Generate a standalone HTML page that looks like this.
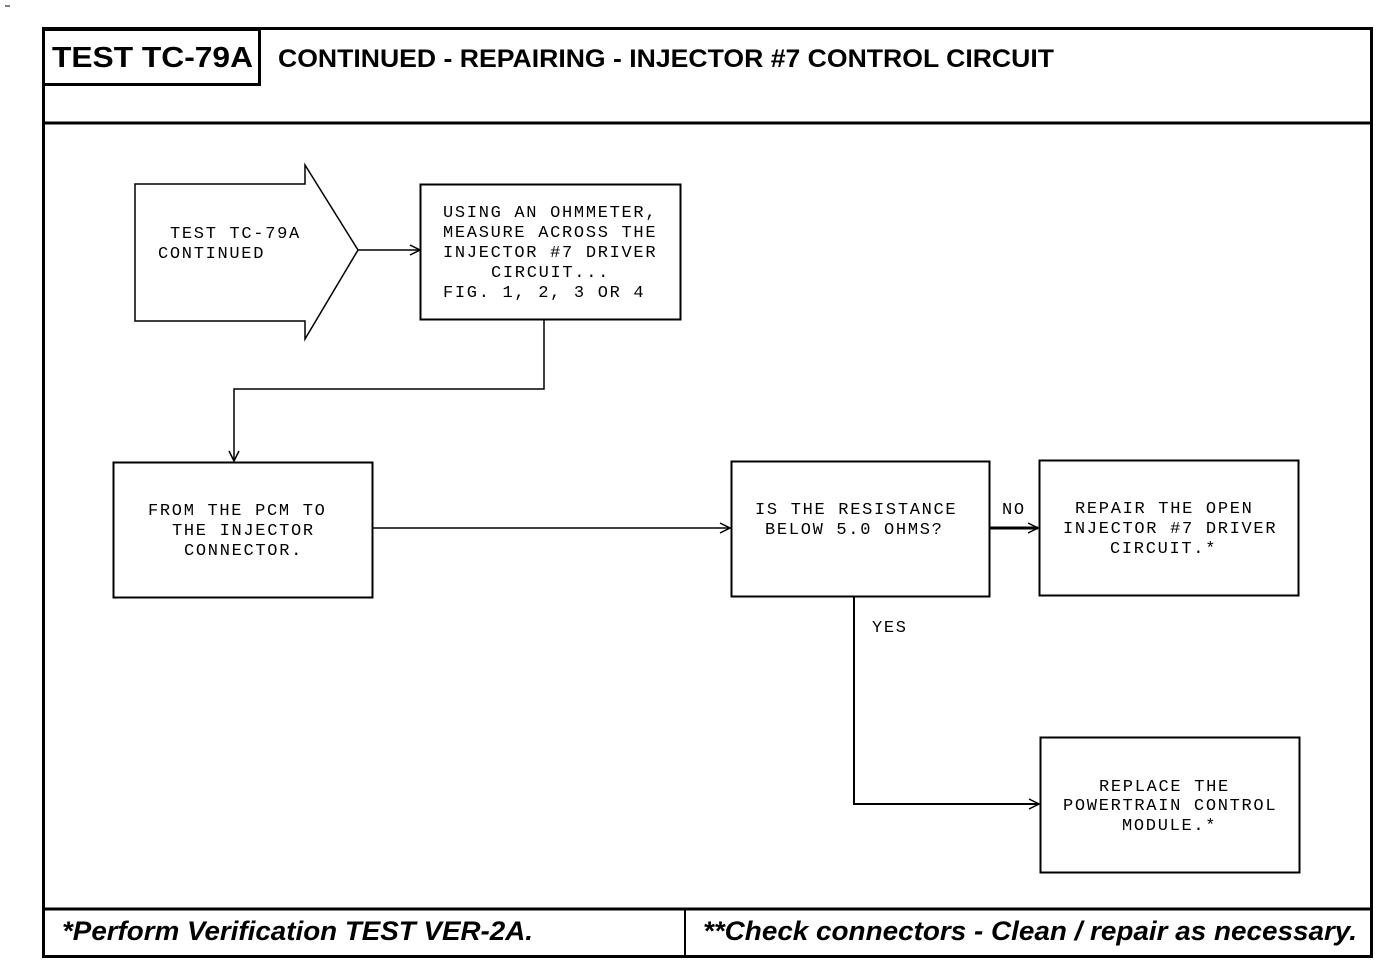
<!DOCTYPE html>
<html><head><meta charset="utf-8"><style>
html,body{margin:0;padding:0;background:#fff}
svg{display:block}
.m{font-family:"Liberation Mono",monospace;font-size:17px;letter-spacing:1.7px;fill:#000}
.b{font-family:"Liberation Sans",sans-serif;font-weight:bold;fill:#000}
</style></head><body>
<svg width="1392" height="966" viewBox="0 0 1392 966" xmlns="http://www.w3.org/2000/svg">
<defs>
<marker id="a" markerWidth="12" markerHeight="12" refX="11" refY="6" orient="auto" markerUnits="userSpaceOnUse">
<path d="M1,1 L11,6 L1,11" fill="none" stroke="#000" stroke-width="1.5"/>
</marker>
</defs>
<line x1="5" y1="6" x2="10" y2="6" stroke="#000" stroke-width="1"/>
<!-- outer frame -->
<rect x="43.5" y="28.5" width="1328" height="928" fill="none" stroke="#000" stroke-width="3"/>
<line x1="43" y1="123" x2="1372" y2="123" stroke="#000" stroke-width="3"/>
<rect x="43.5" y="29.5" width="216" height="55" fill="none" stroke="#000" stroke-width="3"/>
<line x1="43" y1="909" x2="1372" y2="909" stroke="#000" stroke-width="3"/>
<line x1="685" y1="909" x2="685" y2="957" stroke="#000" stroke-width="2"/>
<text class="b" x="52" y="67" font-size="29" textLength="201" lengthAdjust="spacingAndGlyphs">TEST TC-79A</text>
<text class="b" x="278" y="67" font-size="25" textLength="776" lengthAdjust="spacingAndGlyphs">CONTINUED - REPAIRING - INJECTOR #7 CONTROL CIRCUIT</text>
<text class="b" x="62" y="940" font-size="27" font-style="italic" textLength="471" lengthAdjust="spacingAndGlyphs">*Perform Verification TEST VER-2A.</text>
<text class="b" x="703" y="940" font-size="27" font-style="italic" textLength="654" lengthAdjust="spacingAndGlyphs">**Check connectors - Clean / repair as necessary.</text>

<!-- start arrow -->
<polygon points="135,184 305,184 305,165 358,250 305,339 305,321 135,321" fill="none" stroke="#000" stroke-width="1.5"/>
<text class="m" x="170" y="238">TEST TC-79A</text>
<text class="m" x="158" y="258">CONTINUED</text>
<line x1="358" y1="250" x2="420" y2="250" stroke="#000" stroke-width="1.5" marker-end="url(#a)"/>

<!-- box1 -->
<rect x="420.5" y="184.5" width="260" height="135" fill="none" stroke="#000" stroke-width="2"/>
<text class="m" x="443" y="217">USING AN OHMMETER,</text>
<text class="m" x="443" y="237">MEASURE ACROSS THE</text>
<text class="m" x="443" y="257">INJECTOR #7 DRIVER</text>
<text class="m" x="491" y="277">CIRCUIT...</text>
<text class="m" x="443" y="297">FIG. 1, 2, 3 OR 4</text>
<polyline points="544,320 544,389 234,389 234,461" fill="none" stroke="#000" stroke-width="1.5" marker-end="url(#a)"/>

<!-- box2 -->
<rect x="113.5" y="462.5" width="259" height="135" fill="none" stroke="#000" stroke-width="2"/>
<text class="m" x="148" y="515">FROM THE PCM TO</text>
<text class="m" x="172" y="535">THE INJECTOR</text>
<text class="m" x="184" y="555">CONNECTOR.</text>
<line x1="373" y1="528" x2="730" y2="528" stroke="#000" stroke-width="1.5" marker-end="url(#a)"/>

<!-- box3 -->
<rect x="731.5" y="461.5" width="258" height="135" fill="none" stroke="#000" stroke-width="2"/>
<text class="m" x="755" y="514">IS THE RESISTANCE</text>
<text class="m" x="765" y="534">BELOW 5.0 OHMS?</text>
<text class="m" x="1002" y="514">NO</text>
<line x1="990" y1="528" x2="1038" y2="528" stroke="#000" stroke-width="3" marker-end="url(#a)"/>

<!-- box4 -->
<rect x="1039.5" y="460.5" width="259" height="135" fill="none" stroke="#000" stroke-width="2"/>
<text class="m" x="1075" y="513">REPAIR THE OPEN</text>
<text class="m" x="1063" y="533">INJECTOR #7 DRIVER</text>
<text class="m" x="1110" y="553">CIRCUIT.*</text>

<text class="m" x="872" y="632">YES</text>
<polyline points="854,597 854,804 1039,804" fill="none" stroke="#000" stroke-width="2" marker-end="url(#a)"/>

<!-- box5 -->
<rect x="1040.5" y="737.5" width="259" height="135" fill="none" stroke="#000" stroke-width="2"/>
<text class="m" x="1099" y="791">REPLACE THE</text>
<text class="m" x="1063" y="810">POWERTRAIN CONTROL</text>
<text class="m" x="1122" y="830">MODULE.*</text>
</svg>
</body></html>
